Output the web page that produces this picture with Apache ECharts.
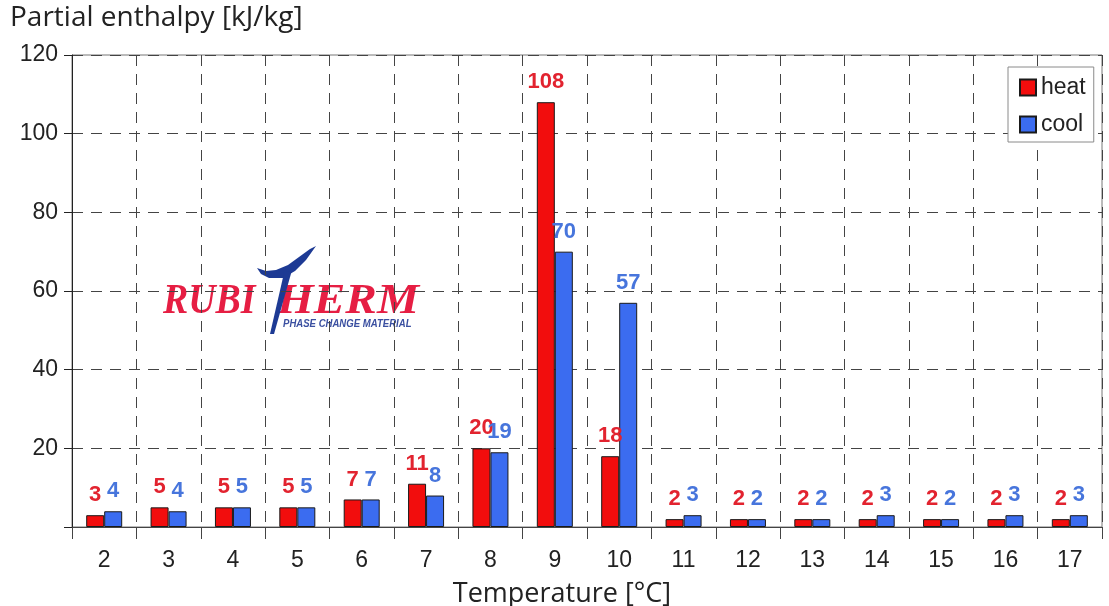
<!DOCTYPE html>
<html>
<head>
<meta charset="utf-8">
<script src="https://cdn.jsdelivr.net/npm/echarts@6/dist/echarts.min.js"></script>
<style>
  html, body { margin: 0; padding: 0; background: #fff; }
  #chart { width: 1109px; height: 606px; }
</style>
</head>
<body>
<div id="chart"></div>
<script>
// Temperature steps (°C)
const temperatures = ['2', '3', '4', '5', '6', '7', '8', '9', '10', '11', '12', '13', '14', '15', '16', '17'];
// Partial enthalpy per 1 K step, kJ/kg
const heatValues = [3, 5, 5, 5, 7, 11, 20, 108, 18, 2, 2, 2, 2, 2, 2, 2];
const coolValues = [4, 4, 5, 5, 7, 8, 19, 70, 57, 3, 2, 2, 3, 2, 3, 3];
const yTicks = { min: 0, max: 120, interval: 20 };

const RED = '#f20d0d';
const BLUE = '#3b6cf0';
const RED_TXT = '#e2232f';
const BLUE_TXT = '#4775dc';
const AXIS_FONT = 'Liberation Sans';
const NAME_FONT = 'Open Sans';

const chart = echarts.init(document.getElementById('chart'), null, { renderer: 'canvas' });

function barSeries(name, data, color, txtColor) {
  return {
    name: name,
    type: 'bar',
    data: data,
    barWidth: 18,
    barGap: '0%',
    itemStyle: { color: color, borderColor: '#1a1a1a', borderWidth: 1 },
    label: {
      show: true,
      position: 'top',
      distance: 9,
      color: txtColor,
      fontFamily: AXIS_FONT,
      fontWeight: 'bold',
      fontSize: 22
    },
    z: 3
  };
}

// logo "T" drawn as two filled shapes: the swept crossbar and the slanted stem
const crossbar = [[257, 268], [261, 274], [269, 278], [283, 278], [295, 271], [306, 260], [316, 246],
                  [310, 249], [299, 257], [288, 265], [276, 270], [266, 271]];
const stem = [[284, 273], [292, 270], [274, 334], [270, 334]];

chart.setOption({
  animation: false,
  backgroundColor: '#fff',
  title: {
    text: 'Partial enthalpy [kJ/kg]',
    left: 5,
    top: -1,
    textStyle: { fontFamily: NAME_FONT, fontWeight: 'normal', fontSize: 28, color: '#222' }
  },
  grid: {
    left: 72, top: 55, width: 1030, height: 472,
    outerBoundsMode: 'none',
    containLabel: false,
    show: true, borderColor: '#777', borderWidth: 1, backgroundColor: 'transparent'
  },
  legend: {
    orient: 'vertical',
    left: 1008,
    top: 67,
    padding: [9, 8, 6, 11],
    itemGap: 14,
    itemWidth: 16,
    itemHeight: 16,
    borderColor: '#8a8a8a',
    borderWidth: 1,
    backgroundColor: '#fff',
    icon: 'rect',
    textStyle: { fontFamily: AXIS_FONT, fontSize: 23, color: '#222', padding: [0, 0, 0, 0] },
    data: ['heat', 'cool']
  },
  xAxis: {
    type: 'category',
    data: temperatures,
    boundaryGap: true,
    name: 'Temperature [°C]',
    nameLocation: 'middle',
    nameGap: 54,
    nameTextStyle: { fontFamily: NAME_FONT, fontSize: 27, color: '#222', padding: [0, 50, 0, 0] },
    axisLine: { lineStyle: { color: '#444', width: 1 } },
    axisTick: { show: true, length: 12, lineStyle: { color: '#444' } },
    axisLabel: { fontFamily: AXIS_FONT, fontSize: 23, color: '#222', margin: 22 },
    splitLine: { show: true, lineStyle: { color: '#444', type: [11, 8], width: 1 } }
  },
  yAxis: {
    type: 'value',
    min: yTicks.min,
    max: yTicks.max,
    interval: yTicks.interval,
    axisLine: { show: true, lineStyle: { color: '#222', width: 1 } },
    axisTick: { show: true, length: 8, lineStyle: { color: '#222' } },
    axisLabel: {
      fontFamily: AXIS_FONT, fontSize: 23, color: '#222', margin: 14,
      formatter: v => (v === 0 ? '' : String(v))
    },
    splitLine: { show: true, lineStyle: { color: '#444', type: [11, 8], width: 1 } }
  },
  series: [
    barSeries('heat', heatValues, RED, RED_TXT),
    barSeries('cool', coolValues, BLUE, BLUE_TXT)
  ],
  graphic: [{
    type: 'group',
    z: 100,
    children: [
      { type: 'rect', shape: { x: 158, y: 242, width: 268, height: 92 }, style: { fill: '#fff' } },
      {
        type: 'text', x: 163, y: 302, scaleX: 0.88,
        style: { text: 'RUBI', font: 'italic bold 43px "Liberation Serif"', fill: '#e61e43', verticalAlign: 'middle', align: 'left' }
      },
      {
        type: 'text', x: 277, y: 302, scaleX: 1.1,
        style: { text: 'HERM', font: 'italic bold 43px "Liberation Serif"', fill: '#e61e43', verticalAlign: 'middle', align: 'left' }
      },
      { type: 'polygon', shape: { points: crossbar }, style: { fill: '#1d3a94' } },
      { type: 'polygon', shape: { points: stem }, style: { fill: '#1d3a94' } },
      {
        type: 'text', x: 283, y: 324, scaleX: 0.87,
        style: { text: 'PHASE CHANGE MATERIAL', font: 'italic bold 11px "Liberation Sans"', fill: '#3a4fa0', verticalAlign: 'middle', align: 'left' }
      }
    ]
  }]
});
</script>
</body>
</html>
